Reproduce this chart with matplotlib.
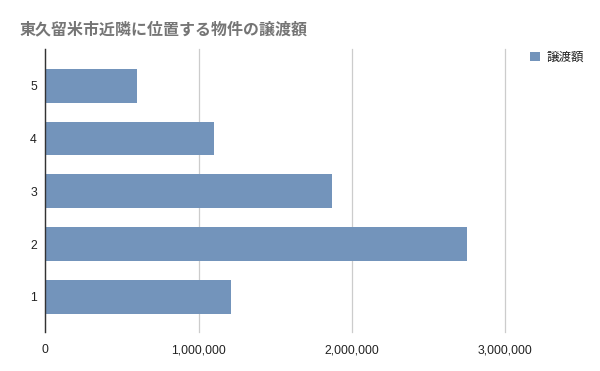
import matplotlib
matplotlib.use("Agg")
import matplotlib.pyplot as plt
from matplotlib.ticker import FuncFormatter
from matplotlib.patches import Patch

plt.rcParams['font.family'] = ['Noto Sans CJK JP', 'DejaVu Sans']

# Data
categories = ["1", "2", "3", "4", "5"]
values = [1210000, 2750000, 1870000, 1100000, 600000]
x_ticks = [0, 1000000, 2000000, 3000000]
title = "東久留米市近隣に位置する物件の譲渡額"
series_name = "譲渡額"

bar_color = "#7394bb"

fig = plt.figure(figsize=(6, 3.71), dpi=100)
ax = fig.add_axes([45.3 / 600, 39.3 / 371, 460 / 600, 283 / 371])

pos = list(range(1, len(categories) + 1))
ax.barh(pos, values, height=0.64, color=bar_color, zorder=3)

ax.set_xlim(0, 3000000)
ax.set_ylim(0.34, 5.70)
ax.set_yticks(pos)
ax.set_yticklabels(categories)
ax.set_xticks(x_ticks)
ax.xaxis.set_major_formatter(FuncFormatter(lambda v, _: f"{int(v):,}"))

for lab in ax.get_xticklabels() + ax.get_yticklabels():
    lab.set_fontfamily("Liberation Sans")
    lab.set_fontsize(8.8)
    lab.set_color("#222222")

ax.tick_params(axis="both", length=0)
ax.tick_params(axis="x", pad=9)
ax.tick_params(axis="y", pad=6)

ax.grid(True, axis="x", color="#cccccc", linewidth=0.9, zorder=0)
for gl in ax.get_xgridlines():
    gl.set_clip_on(False)
for s in ("top", "right", "bottom"):
    ax.spines[s].set_visible(False)
ax.spines["left"].set_color("#333333")
ax.spines["left"].set_linewidth(1.0)
ax.spines["left"].set_zorder(4)

fig.text(20 / 600, 1 - 29 / 371, title, fontsize=11.5, fontweight="bold",
         color="#757575", va="center", ha="left")

handles = [Patch(facecolor=bar_color, edgecolor="none", label=series_name)]
fig.legend(handles=handles, loc="center left", bbox_to_anchor=(519 / 600, 1 - 57 / 371),
           frameon=False, fontsize=9, handlelength=0.75, handleheight=0.75,
           handletextpad=0.55, labelcolor="#222222")

fig.savefig("out.png", dpi=100)
